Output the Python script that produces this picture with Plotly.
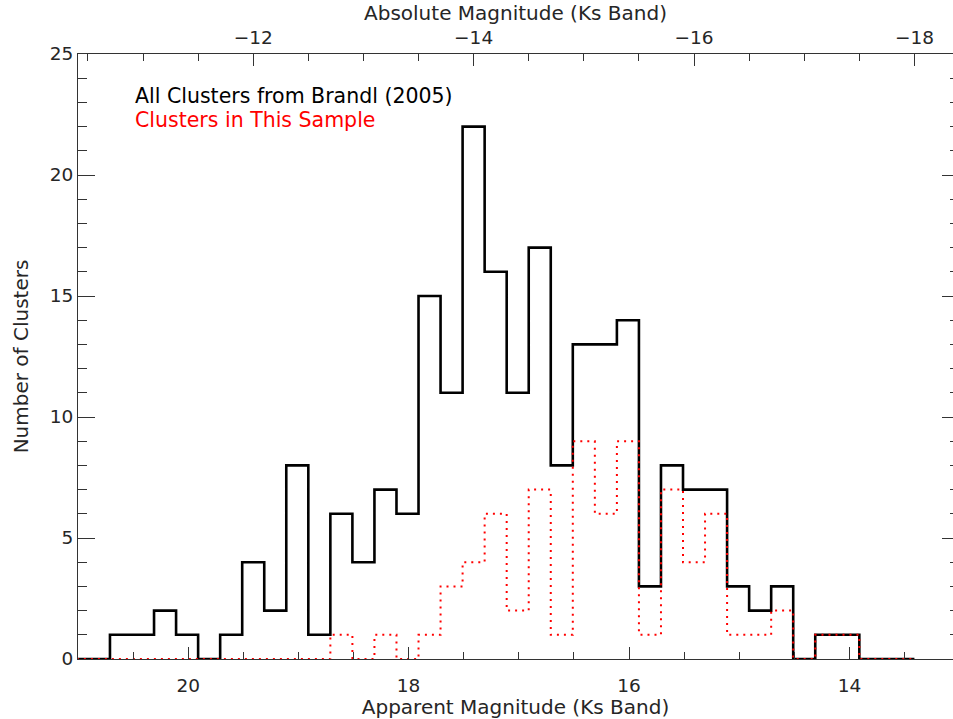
import plotly.graph_objects as go

# Bin centres (apparent Ks magnitude) of the histogram
bin_centers = [21.01, 20.81, 20.61, 20.41, 20.21, 20.01, 19.81, 19.61, 19.41, 19.21,
               19.01, 18.81, 18.61, 18.41, 18.21, 18.01, 17.81, 17.61, 17.41, 17.21,
               17.01, 16.81, 16.61, 16.41, 16.21, 16.01, 15.81, 15.61, 15.41, 15.21,
               15.01, 14.81, 14.61, 14.41, 14.21, 14.01, 13.81, 13.61, 13.41]

all_clusters = [0, 0, 1, 1, 2, 1, 0, 1, 4, 2, 8, 1, 6, 4, 7, 6, 15, 11, 22, 16,
                11, 17, 8, 13, 13, 14, 3, 8, 7, 7, 3, 2, 3, 0, 1, 1, 0, 0, 0]

sample_clusters = [0, 0, 0, 0, 0, 0, 0, 0, 0, 0, 0, 0, 1, 0, 1, 0, 1, 3, 4, 6,
                   2, 7, 1, 9, 6, 9, 1, 7, 4, 6, 1, 1, 2, 0, 1, 1, 0, 0, 0]

distance_modulus = 31.41
x_range = [21.0, 13.06]
y_range = [0, 25]

FONT = "DejaVu Sans"
TXT = "#262626"
AX = "#333333"

fig = go.Figure()
fig.add_trace(go.Scatter(x=bin_centers, y=all_clusters, mode="lines",
                         line=dict(shape="hvh", color="black", width=2.6),
                         showlegend=False, hoverinfo="skip"))
fig.add_trace(go.Scatter(x=bin_centers, y=sample_clusters, mode="lines",
                         line=dict(shape="hvh", color="red", width=2, dash="2px,5px"),
                         showlegend=False, hoverinfo="skip"))

# invisible trace to activate secondary axes
fig.add_trace(go.Scatter(x=[x_range[0] - distance_modulus], y=[0], xaxis="x2", yaxis="y2",
                         mode="markers", marker=dict(opacity=0), showlegend=False,
                         hoverinfo="skip"))

fig.update_layout(
    width=953, height=719,
    margin=dict(l=78, r=0, t=54, b=60),
    paper_bgcolor="white", plot_bgcolor="white",
    font=dict(family=FONT, size=18, color=TXT),
    xaxis=dict(range=x_range, dtick=2, tick0=0, ticks="inside", ticklen=12,
               tickwidth=1, tickcolor=AX, showline=True, linecolor=AX, linewidth=1,
               showgrid=False, zeroline=False, ticklabelstandoff=10,
               minor=dict(dtick=0.5, tick0=0, ticks="inside", ticklen=7, tickcolor=AX),
               tickfont=dict(size=18.5),
               title=dict(text="Apparent Magnitude (Ks Band)", font=dict(size=20), standoff=2)),
    xaxis2=dict(range=[x_range[0] - distance_modulus, x_range[1] - distance_modulus],
                overlaying="x", side="top", anchor="y", dtick=2, tick0=0,
                ticks="inside", ticklen=12, tickwidth=1, tickcolor=AX,
                showline=True, linecolor=AX, linewidth=1, showgrid=False, zeroline=False,
                ticklabelstandoff=2,
                minor=dict(dtick=0.5, tick0=0, ticks="inside", ticklen=7, tickcolor=AX),
                tickfont=dict(size=18.5),
                title=dict(text="Absolute Magnitude (Ks Band)", font=dict(size=20), standoff=0)),
    yaxis=dict(range=y_range, dtick=5, tick0=0, ticks="inside", ticklen=17, tickwidth=1,
               tickcolor=AX, showline=True, linecolor=AX, linewidth=1, showgrid=False,
               zeroline=False,
               minor=dict(dtick=1, tick0=0, ticks="inside", ticklen=9, tickcolor=AX),
               tickfont=dict(size=18.5),
               title=dict(text="Number of Clusters", font=dict(size=20), standoff=15)),
    yaxis2=dict(range=y_range, overlaying="y", side="right", anchor="x", dtick=5, tick0=0,
                ticks="inside", ticklen=11, tickwidth=1, tickcolor=AX, showline=False,
                showticklabels=False, showgrid=False, zeroline=False,
                minor=dict(dtick=1, tick0=0, ticks="inside", ticklen=3, tickcolor=AX)),
    annotations=[
        dict(text="All Clusters from Brandl (2005)", xref="paper", yref="paper",
             x=0.0625, y=0.9306, xanchor="left", yanchor="middle", showarrow=False,
             font=dict(size=20.5, color="black", family=FONT)),
        dict(text="Clusters in This Sample", xref="paper", yref="paper",
             x=0.0625, y=0.891, xanchor="left", yanchor="middle", showarrow=False,
             font=dict(size=20.5, color="red", family=FONT)),
    ],
)

fig.write_html("out.html")
